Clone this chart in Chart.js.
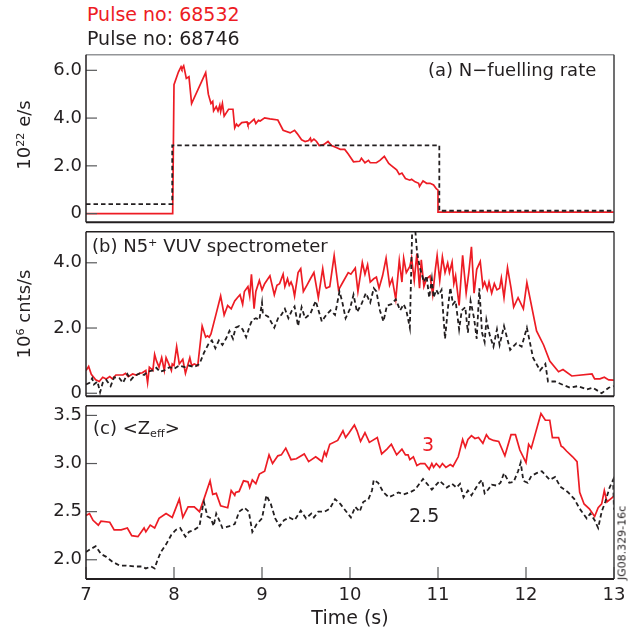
<!DOCTYPE html>
<html>
<head>
<meta charset="utf-8">
<script src="https://cdn.jsdelivr.net/npm/chart.js@4.4.1/dist/chart.umd.min.js"></script>
<style>
body { margin: 0; background: #fff; font-family: "DejaVu Sans", sans-serif; }
#page { position: relative; width: 637px; height: 634px; overflow: hidden; }
.panel { position: absolute; left: 0; width: 637px; }
.txt { position: absolute; white-space: nowrap; line-height: 1; color: #231f20; }
.rot { transform: translate(-50%, -50%) rotate(-90deg); }
sup { font-size: 0.62em; position: relative; top: -0.5em; vertical-align: baseline; line-height: 0; }
sub { font-size: 0.62em; position: relative; top: 0.25em; vertical-align: baseline; line-height: 0; }
</style>
</head>
<body>
<div id="page">
  <div class="panel" style="top:40px;height:197px"><canvas id="fuel"></canvas></div>
  <div class="panel" style="top:217px;height:194px"><canvas id="vuv"></canvas></div>
  <div class="panel" style="top:391px;height:243px"><canvas id="zeff"></canvas></div>

  <div class="txt" style="left:87px;top:5px;font-size:19px;color:#ed1c24">Pulse no: 68532</div>
  <div class="txt" style="left:87px;top:29px;font-size:19px">Pulse no: 68746</div>

  <div class="txt" style="left:428px;top:61px;font-size:18px">(a) N−fuelling rate</div>
  <div class="txt" style="left:92px;top:237px;font-size:18px">(b) N5<sup>+</sup> VUV spectrometer</div>
  <div class="txt" style="left:93px;top:419px;font-size:18px">(c) &lt;Z<sub>eff</sub>&gt;</div>

  <div class="txt" style="left:422px;top:435px;font-size:19px;color:#ed1c24">3</div>
  <div class="txt" style="left:409px;top:506px;font-size:19px">2.5</div>

  <div class="txt rot" style="left:24px;top:135px;font-size:18px">10<sup>22</sup> e/s</div>
  <div class="txt rot" style="left:24px;top:314px;font-size:18px">10<sup>6</sup> cnts/s</div>
  <div class="txt rot" style="left:622px;top:543px;font-size:11px">JG08.329-16c</div>
</div>
<script>
// ── data: [time (s), value] ───────────────────────────
const timeTicks = [7, 8, 9, 10, 11, 12, 13];
const fuelTicks = [0, 2, 4, 6];
const vuvTicks = [0, 2, 4];
const zeffTicks = [2, 2.5, 3, 3.5];

// (a) N-fuelling rate, 10^22 e/s
const fuelRed = [
  [7,0],[7.985,0],[8.0,5.40],[8.05,5.93],[8.08,6.15],[8.09,6.06],[8.11,6.19],[8.12,6.02],[8.14,5.66],
  [8.17,5.73],[8.20,4.61],[8.36,5.90],[8.39,5.00],[8.42,4.61],[8.44,4.70],[8.45,4.30],[8.48,4.48],
  [8.50,4.30],[8.52,4.54],[8.53,4.28],[8.55,4.61],[8.57,4.08],[8.62,4.37],[8.67,4.37],[8.69,3.59],
  [8.71,3.75],[8.73,3.66],[8.77,3.81],[8.83,3.84],[8.84,3.72],[8.88,3.85],[8.91,3.95],[8.93,3.77],
  [8.96,3.91],[8.98,3.88],[9.03,4.01],[9.09,3.97],[9.18,3.92],[9.24,3.49],[9.32,3.38],[9.37,3.49],
  [9.40,3.35],[9.45,3.09],[9.49,3.02],[9.53,3.06],[9.55,3.16],[9.56,3.02],[9.59,3.12],[9.62,3.02],
  [9.65,2.85],[9.70,2.89],[9.75,3.02],[9.79,2.85],[9.85,2.76],[9.89,2.69],[9.94,2.69],[9.98,2.50],
  [10.04,2.17],[10.11,2.19],[10.13,2.32],[10.17,2.13],[10.21,2.23],[10.23,2.13],[10.30,2.13],
  [10.34,2.23],[10.39,2.40],[10.44,2.10],[10.47,2.01],[10.53,1.83],[10.56,1.64],[10.59,1.70],
  [10.63,1.47],[10.68,1.40],[10.70,1.44],[10.74,1.33],[10.78,1.27],[10.79,1.14],[10.83,1.37],
  [10.87,1.27],[10.91,1.27],[10.95,1.20],[10.98,1.04],[11.0,0.98],[11.0,0.06],[13,0.06]
];
const fuelBlack = [[7,0.4],[7.98,0.4],[7.98,2.86],[11.015,2.86],[11.015,0.12],[13,0.12]];

// (b) N5+ VUV spectrometer, 10^6 cnts/s
const vuvRed = [
  [7.0,0.70],[7.03,0.82],[7.06,0.58],[7.11,0.41],[7.15,0.36],[7.19,0.49],[7.23,0.44],[7.27,0.51],
  [7.30,0.44],[7.34,0.56],[7.38,0.56],[7.42,0.56],[7.45,0.61],[7.48,0.51],[7.53,0.59],[7.57,0.56],
  [7.61,0.61],[7.64,0.63],[7.68,0.70],[7.70,0.32],[7.72,0.80],[7.76,0.70],[7.78,1.19],[7.80,1.00],
  [7.83,0.80],[7.86,1.09],[7.89,0.70],[7.91,1.09],[7.94,0.90],[7.97,0.70],[7.98,0.90],[8.00,0.85],
  [8.03,1.43],[8.06,0.90],[8.10,1.04],[8.13,0.61],[8.16,0.90],[8.18,1.09],[8.20,0.85],[8.23,0.90],
  [8.27,0.85],[8.32,2.06],[8.36,1.72],[8.38,1.76],[8.40,1.72],[8.42,1.82],[8.48,2.45],[8.53,2.98],
  [8.57,2.40],[8.61,2.69],[8.65,2.59],[8.69,2.83],[8.72,2.93],[8.75,3.02],[8.78,2.73],[8.80,3.12],
  [8.84,3.27],[8.86,2.98],[8.88,3.65],[8.91,2.59],[8.93,3.12],[8.97,3.46],[9.00,3.17],[9.03,3.36],
  [9.09,3.60],[9.14,3.02],[9.17,3.31],[9.20,3.36],[9.24,3.65],[9.26,3.27],[9.29,3.51],[9.31,3.31],
  [9.33,3.41],[9.35,3.27],[9.37,2.98],[9.41,3.70],[9.44,3.82],[9.47,3.12],[9.51,3.31],[9.55,3.51],
  [9.59,3.70],[9.64,2.93],[9.69,3.82],[9.72,3.27],[9.73,3.22],[9.77,3.27],[9.82,4.22],[9.87,3.17],
  [9.92,3.41],[9.98,3.70],[10.01,3.65],[10.06,3.84],[10.09,3.12],[10.14,4.01],[10.17,3.65],
  [10.20,3.94],[10.23,3.41],[10.27,3.51],[10.30,3.56],[10.33,3.22],[10.37,3.60],[10.41,4.14],
  [10.45,3.31],[10.48,3.51],[10.52,2.88],[10.56,4.07],[10.59,3.41],[10.61,4.14],[10.64,3.70],
  [10.68,3.89],[10.70,4.14],[10.73,3.46],[10.76,4.28],[10.79,3.22],[10.81,4.09],[10.84,3.27],
  [10.87,3.51],[10.91,3.60],[10.94,3.02],[10.97,3.80],[10.99,4.22],[11.02,3.46],[11.05,4.18],
  [11.08,3.70],[11.11,3.99],[11.13,3.70],[11.16,4.02],[11.18,3.36],[11.20,3.60],[11.24,2.69],
  [11.28,4.23],[11.32,3.07],[11.35,3.70],[11.38,4.49],[11.41,3.07],[11.44,3.80],[11.48,4.04],
  [11.51,3.27],[11.53,3.41],[11.56,3.17],[11.58,3.41],[11.61,3.07],[11.64,3.36],[11.67,3.17],
  [11.70,3.22],[11.72,3.53],[11.75,2.93],[11.79,3.85],[11.83,3.22],[11.86,2.64],[11.91,2.93],
  [11.97,2.59],[12.01,3.39],[12.12,1.91],[12.20,1.48],[12.27,0.99],[12.37,0.66],[12.42,0.73],
  [12.52,0.53],[12.75,0.59],[12.78,0.44],[12.84,0.44],[12.89,0.49],[12.94,0.41],[13.0,0.40]
];
const vuvBlack = [
  [7.0,0.27],[7.04,0.32],[7.07,0.46],[7.09,0.27],[7.13,0.36],[7.16,0.03],[7.19,0.32],[7.23,0.41],
  [7.28,0.22],[7.32,0.49],[7.38,0.46],[7.42,0.32],[7.47,0.59],[7.51,0.41],[7.55,0.53],[7.61,0.61],
  [7.66,0.56],[7.70,0.66],[7.76,0.70],[7.80,0.78],[7.84,0.66],[7.89,0.70],[7.95,0.80],[8.00,0.75],
  [8.06,0.85],[8.12,0.80],[8.17,0.85],[8.23,0.80],[8.29,0.90],[8.34,1.24],[8.39,1.50],[8.43,1.62],
  [8.47,1.38],[8.51,1.62],[8.55,1.48],[8.59,1.67],[8.63,1.91],[8.67,1.67],[8.70,2.01],[8.74,2.06],
  [8.78,1.96],[8.82,1.72],[8.86,2.06],[8.89,2.25],[8.93,2.30],[8.97,2.25],[9.00,2.78],[9.01,2.44],
  [9.07,2.35],[9.14,2.01],[9.19,2.35],[9.22,2.40],[9.26,2.59],[9.30,2.30],[9.34,2.54],[9.37,2.66],
  [9.41,2.06],[9.45,2.64],[9.49,2.30],[9.55,2.44],[9.61,2.83],[9.68,2.20],[9.73,2.40],[9.78,2.54],
  [9.83,2.40],[9.88,3.12],[9.91,2.83],[9.95,2.30],[10.00,2.59],[10.04,3.02],[10.08,2.49],
  [10.13,2.73],[10.18,3.07],[10.23,2.78],[10.27,3.22],[10.30,3.12],[10.34,2.54],[10.38,2.20],
  [10.42,2.69],[10.47,2.73],[10.52,2.88],[10.57,2.54],[10.61,2.73],[10.64,2.54],[10.68,2.01],
  [10.71,5.4],[10.73,5.4],[10.76,4.38],[10.79,3.89],[10.81,3.70],[10.84,3.41],[10.87,3.60],
  [10.90,2.93],[10.93,3.51],[10.95,2.93],[10.98,3.17],[11.01,3.02],[11.04,3.17],[11.08,1.67],
  [11.11,2.54],[11.14,3.24],[11.17,2.73],[11.20,2.83],[11.24,1.96],[11.27,2.54],[11.31,2.64],
  [11.34,1.86],[11.37,2.83],[11.41,2.30],[11.44,1.67],[11.47,3.22],[11.50,1.86],[11.53,1.57],
  [11.55,2.25],[11.59,1.76],[11.63,1.43],[11.67,1.96],[11.70,1.48],[11.75,2.06],[11.82,1.33],
  [11.89,1.53],[11.95,1.43],[12.01,2.01],[12.08,1.09],[12.16,0.70],[12.22,0.90],[12.25,0.36],
  [12.33,0.36],[12.41,0.27],[12.50,0.17],[12.59,0.22],[12.69,0.12],[12.76,0.17],[12.86,0.00],
  [12.94,0.17],[13.0,0.22]
];

// (c) <Zeff>
const zeffRed = [
  [7.0,2.46],[7.04,2.48],[7.08,2.41],[7.14,2.36],[7.17,2.40],[7.27,2.39],[7.32,2.31],[7.40,2.31],
  [7.47,2.33],[7.52,2.25],[7.59,2.24],[7.66,2.33],[7.68,2.29],[7.73,2.36],[7.78,2.33],[7.83,2.43],
  [7.91,2.48],[7.98,2.44],[8.06,2.63],[8.10,2.44],[8.16,2.55],[8.23,2.55],[8.29,2.50],[8.34,2.63],
  [8.41,2.82],[8.44,2.68],[8.48,2.69],[8.53,2.56],[8.61,2.54],[8.65,2.72],[8.69,2.67],[8.70,2.70],
  [8.74,2.71],[8.79,2.82],[8.84,2.81],[8.86,2.75],[8.89,2.83],[8.93,2.79],[8.97,2.89],[9.03,2.92],
  [9.08,3.09],[9.12,3.00],[9.18,3.08],[9.22,3.09],[9.27,3.16],[9.33,3.04],[9.39,3.05],[9.48,3.10],
  [9.53,3.02],[9.61,3.07],[9.64,3.05],[9.68,3.02],[9.71,3.12],[9.73,3.08],[9.77,3.20],[9.86,3.24],
  [9.92,3.34],[9.95,3.27],[9.99,3.32],[10.05,3.40],[10.08,3.34],[10.12,3.23],[10.17,3.32],
  [10.22,3.22],[10.31,3.27],[10.36,3.10],[10.42,3.15],[10.47,3.20],[10.53,3.09],[10.59,3.15],
  [10.63,3.09],[10.66,3.09],[10.68,3.04],[10.72,3.07],[10.76,2.98],[10.80,3.00],[10.85,3.00],
  [10.90,2.94],[10.93,3.00],[10.95,2.96],[10.98,3.00],[11.02,2.96],[11.05,3.00],[11.09,2.96],
  [11.14,2.99],[11.17,2.97],[11.23,3.07],[11.28,3.25],[11.31,3.17],[11.34,3.25],[11.38,3.29],
  [11.42,3.26],[11.46,3.27],[11.51,3.21],[11.55,3.30],[11.58,3.26],[11.63,3.24],[11.69,3.23],
  [11.76,3.08],[11.83,3.30],[11.88,3.30],[11.93,3.14],[12.0,3.01],[12.03,3.20],[12.06,3.16],
  [12.17,3.52],[12.22,3.45],[12.27,3.45],[12.30,3.27],[12.37,3.27],[12.40,3.18],[12.42,3.17],
  [12.46,3.13],[12.53,3.07],[12.58,3.02],[12.61,2.70],[12.66,2.58],[12.72,2.53],[12.78,2.45],
  [12.82,2.54],[12.86,2.58],[12.89,2.72],[12.92,2.60],[13.0,2.66]
];
const zeffBlack = [
  [7.0,2.08],[7.05,2.11],[7.11,2.14],[7.17,2.06],[7.23,2.03],[7.30,1.98],[7.38,1.94],[7.45,1.94],
  [7.55,1.93],[7.63,1.93],[7.68,1.91],[7.74,1.93],[7.78,1.91],[7.81,1.99],[7.85,2.08],[7.91,2.16],
  [7.97,2.26],[8.02,2.31],[8.07,2.33],[8.13,2.24],[8.17,2.29],[8.23,2.31],[8.29,2.35],[8.33,2.57],
  [8.34,2.60],[8.38,2.45],[8.42,2.43],[8.45,2.35],[8.48,2.48],[8.52,2.40],[8.55,2.33],[8.63,2.35],
  [8.69,2.37],[8.74,2.50],[8.80,2.54],[8.85,2.50],[8.89,2.29],[8.94,2.37],[9.0,2.43],[9.05,2.67],
  [9.10,2.58],[9.15,2.43],[9.20,2.35],[9.25,2.41],[9.31,2.44],[9.37,2.41],[9.44,2.51],[9.50,2.43],
  [9.56,2.48],[9.59,2.44],[9.64,2.50],[9.71,2.50],[9.77,2.53],[9.83,2.63],[9.89,2.58],[9.95,2.51],
  [10.01,2.44],[10.06,2.55],[10.11,2.50],[10.15,2.60],[10.21,2.63],[10.25,2.72],[10.27,2.83],
  [10.32,2.80],[10.38,2.70],[10.44,2.65],[10.49,2.67],[10.55,2.70],[10.61,2.68],[10.68,2.70],
  [10.74,2.73],[10.83,2.84],[10.93,2.73],[11.02,2.82],[11.10,2.75],[11.16,2.79],[11.21,2.75],
  [11.25,2.79],[11.29,2.65],[11.34,2.72],[11.38,2.67],[11.42,2.73],[11.46,2.79],[11.50,2.83],
  [11.53,2.69],[11.57,2.73],[11.61,2.78],[11.67,2.77],[11.71,2.80],[11.75,2.90],[11.81,2.80],
  [11.86,2.81],[11.91,2.92],[11.94,3.01],[11.97,2.82],[12.02,2.80],[12.06,2.87],[12.12,2.90],
  [12.18,2.92],[12.23,2.87],[12.27,2.83],[12.33,2.86],[12.39,2.76],[12.48,2.70],[12.55,2.63],
  [12.61,2.53],[12.69,2.43],[12.73,2.48],[12.78,2.41],[12.82,2.33],[12.86,2.50],[12.90,2.60],
  [12.95,2.75],[12.99,2.83],[13.0,2.52]
];

const RED = '#ed1c24';
const INK = '#231f20';
Chart.defaults.font.family = '"DejaVu Sans", sans-serif';
Chart.defaults.color = INK;

// ── frame + inward ticks ──────────────────────────────
const framePlugin = {
    id: 'frame',
    afterDatasetsDraw(chart, args, opts) {
        const { ctx, chartArea: a, scales: { x, y } } = chart;
        const seg = (x1, y1, x2, y2) => { ctx.beginPath(); ctx.moveTo(x1, y1); ctx.lineTo(x2, y2); ctx.stroke(); };
        ctx.save();
        ctx.strokeStyle = '#58595b';
        ctx.lineWidth = 1.2;
        y.ticks.forEach(t => {
            const py = y.getPixelForValue(t.value);
            seg(a.left, py, a.left + 11, py);
        });
        if (opts.xTicks) {
            x.ticks.forEach(t => {
                const px = x.getPixelForValue(t.value);
                seg(px, a.bottom, px, a.bottom - 12);
            });
        }
        ctx.lineWidth = 1.5;
        ctx.strokeStyle = opts.topColour || INK;
        seg(a.left, a.top, a.right, a.top);
        ctx.strokeStyle = '#414042';
        seg(a.right, a.top, a.right, a.bottom);
        ctx.strokeStyle = INK;
        seg(a.left, a.top, a.left, a.bottom);
        ctx.lineWidth = 2;
        seg(a.left, a.bottom, a.right, a.bottom);
        ctx.restore();
    }
};

const fmt = v => v === 0 ? '0' : v.toFixed(1);

function panel(id, sets, yMin, yMax, yTicks, bottom, topColour) {
    return new Chart(document.getElementById(id), {
        type: 'line',
        data: {
            datasets: sets.map(([pts, colour, dashed]) => ({
                data: pts.map(([x, y]) => ({ x, y })),
                borderColor: colour,
                borderWidth: dashed ? 1.8 : 1.7,
                borderDash: dashed ? [4.5, 3] : [],
                pointRadius: 0,
                tension: 0,
                fill: false
            }))
        },
        options: {
            responsive: true,
            maintainAspectRatio: false,
            animation: false,
            events: [],
            layout: { padding: { top: 10, bottom: bottom ? 0 : 10, left: 0, right: 23 } },
            plugins: {
                legend: { display: false },
                tooltip: { enabled: false },
                frame: { xTicks: bottom, topColour }
            },
            scales: {
                x: {
                    type: 'linear',
                    min: 7,
                    max: 13,
                    display: bottom,
                    afterBuildTicks: s => { s.ticks = timeTicks.map(v => ({ value: v })); },
                    afterFit: s => { s.height = bottom ? 55 : 0; },
                    grid: { display: false, drawTicks: false },
                    border: { display: false },
                    ticks: { padding: 6, font: { size: 18 }, color: INK, maxRotation: 0, callback: v => String(v) },
                    title: { display: true, text: 'Time (s)', font: { size: 19 }, color: INK, padding: { top: 0, bottom: 4 } }
                },
                y: {
                    min: yMin,
                    max: yMax,
                    afterBuildTicks: s => { s.ticks = yTicks.map(v => ({ value: v })); },
                    afterFit: s => { s.width = 86; },
                    grid: { display: false, drawTicks: false },
                    border: { display: false },
                    ticks: { padding: 4, font: { size: 18 }, color: INK, callback: fmt }
                }
            }
        },
        plugins: [framePlugin]
    });
}

panel('fuel', [[fuelBlack, INK, true], [fuelRed, RED, false]], -0.36, 6.65, fuelTicks, false, '#939598');
panel('vuv', [[vuvBlack, INK, true], [vuvRed, RED, false]], -0.09, 4.95, vuvTicks, false);
panel('zeff', [[zeffBlack, INK, true], [zeffRed, RED, false]], 1.80, 3.60, zeffTicks, true);
</script>
</body>
</html>
